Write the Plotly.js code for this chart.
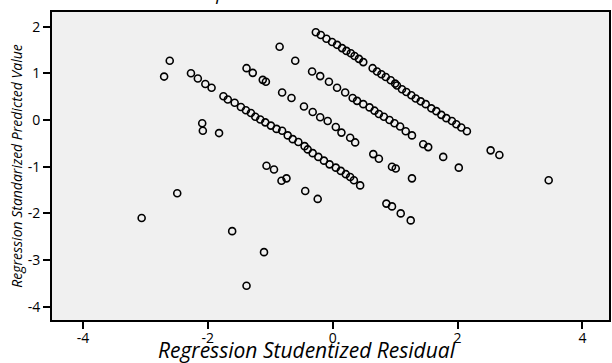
<!DOCTYPE html>
<html>
<head>
<meta charset="utf-8">
<script src="https://cdn.plot.ly/plotly-3.0.1.min.js"></script>
<style>html,body{margin:0;padding:0;background:#fff;}#chart{width:612px;height:363px;}</style>
</head>
<body>
<div id="chart"></div>
<script>
// Regression Studentized Residual (x) and Regression Standarized Predicted Value (y), grouped by band
const bandA_resid = [-0.27,-0.19,-0.10,-0.01,0.07,0.15,0.22,0.29,0.35,0.42,0.49,0.64,0.71,0.78,0.85,0.93,1.00,1.03,1.11,1.18,1.26,1.33,1.41,1.49,1.58,1.66,1.74,1.82,1.91,1.98,2.06,2.15,2.53,2.67];
const bandA_pred  = [1.88,1.82,1.74,1.67,1.61,1.54,1.48,1.43,1.37,1.31,1.24,1.11,1.04,0.98,0.92,0.85,0.78,0.74,0.66,0.60,0.53,0.46,0.40,0.34,0.25,0.19,0.11,0.04,-0.02,-0.09,-0.16,-0.24,-0.65,-0.75];
const bandB_resid = [-0.33,-0.20,-0.06,0.07,0.20,0.32,0.39,0.49,0.59,0.67,0.74,0.82,0.91,0.99,1.08,1.17,1.27,1.45,1.53,1.77,2.02,-0.85,-0.60,-1.38,-1.28,-1.12,-1.07];
const bandB_pred  = [1.04,0.94,0.82,0.69,0.59,0.47,0.41,0.34,0.27,0.20,0.13,0.07,0.00,-0.07,-0.14,-0.24,-0.33,-0.52,-0.58,-0.79,-1.02,1.57,1.27,1.11,1.01,0.86,0.82];
const bandC_resid = [-0.81,-0.66,-0.46,-0.32,-0.20,-0.08,0.05,0.14,0.28,0.36,0.65,0.74,0.95,1.01,1.27,-2.61,-2.70,-2.27,-2.16,-2.04,-1.94];
const bandC_pred  = [0.59,0.47,0.29,0.17,0.06,-0.02,-0.15,-0.27,-0.38,-0.48,-0.73,-0.83,-1.00,-1.04,-1.25,1.27,0.93,1.00,0.89,0.77,0.69];
const bandD_resid = [-1.75,-1.68,-1.57,-1.47,-1.39,-1.31,-1.24,-1.16,-1.08,-0.99,-0.90,-0.81,-0.72,-0.64,-0.55,-0.45,-0.40,-0.32,-0.23,-0.14,-0.05,0.05,0.13,0.21,0.28,0.34,0.44,-2.09,-2.08,-1.82];
const bandD_pred  = [0.51,0.44,0.37,0.28,0.21,0.15,0.07,0.01,-0.05,-0.12,-0.19,-0.23,-0.33,-0.41,-0.47,-0.56,-0.63,-0.71,-0.79,-0.87,-0.95,-1.02,-1.09,-1.16,-1.22,-1.29,-1.40,-0.07,-0.23,-0.28];
const bandE_resid = [-1.06,-0.94,-0.82,-0.74,-0.44,-0.24,0.86,0.95,1.09,1.25];
const bandE_pred  = [-0.98,-1.06,-1.30,-1.25,-1.52,-1.69,-1.79,-1.85,-2.00,-2.15];
const other_resid = [3.46,-2.49,-3.06,-1.61,-1.10,-1.38];
const other_pred  = [-1.29,-1.57,-2.10,-2.38,-2.83,-3.55];

const xTicks = [-4,-2,0,2,4];
const yTicks = [-4,-3,-2,-1,0,1,2];
const xTitle = 'Regression Studentized Residual';
const yTitle = 'Regression Standarized Predicted Value';
const chartTitle = 'Dependent Variable: Y';

const residual = [].concat(bandA_resid, bandB_resid, bandC_resid, bandD_resid, bandE_resid, other_resid);
const predicted = [].concat(bandA_pred, bandB_pred, bandC_pred, bandD_pred, bandE_pred, other_pred);

const FONT = '"Open Sans", "Noto Sans", sans-serif';

const trace = {
  x: residual, y: predicted, type: 'scatter', mode: 'markers',
  marker: {symbol: 'circle-open', size: 7, color: '#000', line: {width: 1.6, color: '#000'}},
  hoverinfo: 'x+y', showlegend: false
};

const layout = {
  width: 612, height: 363,
  margin: {l: 52, r: 3, t: 12, b: 43},
  paper_bgcolor: '#ffffff', plot_bgcolor: '#f0f0f0',
  font: {family: FONT, color: '#000', size: 14},
  title: {text: chartTitle, font: {family: FONT, size: 18, style: 'italic', color: '#000'},
          x: 0.462, xanchor: 'center', y: 1, yref: 'container', yanchor: 'bottom'},
  xaxis: {
    range: [-4.496, 4.426], tickvals: xTicks, ticktext: xTicks.map(String),
    showgrid: false, zeroline: false, showline: true, mirror: true, linecolor: '#000', linewidth: 2,
    ticks: 'outside', ticklen: 7, tickwidth: 2, tickcolor: '#000', ticklabelstandoff: -3,
    tickfont: {family: FONT, size: 14, color: '#000'}
  },
  yaxis: {
    range: [-4.283, 2.313], tickvals: yTicks, ticktext: yTicks.map(String),
    showgrid: false, zeroline: false, showline: true, mirror: true, linecolor: '#000', linewidth: 2,
    ticks: 'outside', ticklen: 7, tickwidth: 2, tickcolor: '#000',
    tickfont: {family: FONT, size: 14, color: '#000'},
    title: {text: yTitle, font: {family: FONT, size: 14, style: 'italic', color: '#000'}, standoff: 2}
  },
  annotations: [{
    text: xTitle, xref: 'paper', yref: 'paper', x: 0.457, y: 0, yshift: -14,
    xanchor: 'center', yanchor: 'top', showarrow: false,
    font: {family: FONT, size: 21, style: 'italic', color: '#000'}
  }]
};

Plotly.newPlot('chart', [trace], layout, {displayModeBar: false, staticPlot: true});
</script>
</body>
</html>
